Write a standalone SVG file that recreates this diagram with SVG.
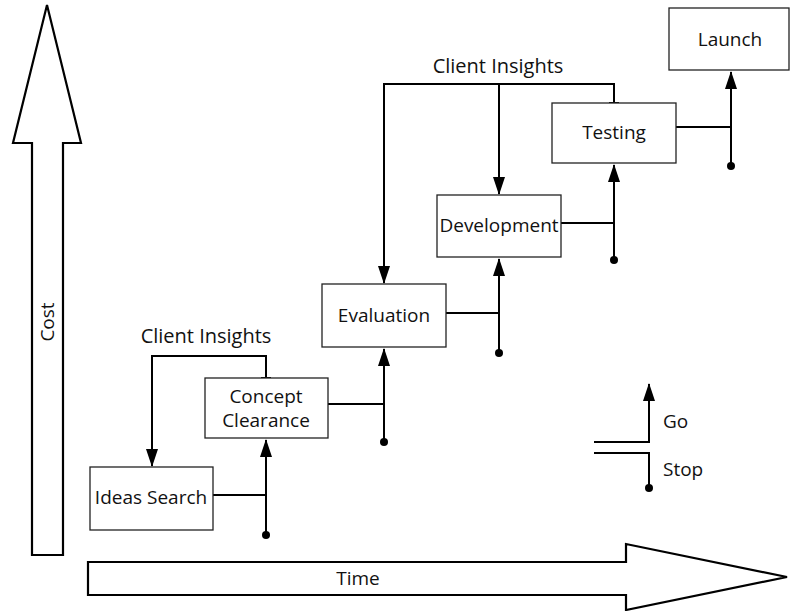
<svg xmlns="http://www.w3.org/2000/svg" width="790" height="611" viewBox="0 0 790 611">
<style>
  text { font-family: "Open Sans", "Noto Sans", "DejaVu Sans", sans-serif; font-size: 19px; fill: #111; }
  .box { fill: #fff; stroke: #222; stroke-width: 1.3; }
  .big { fill: #fff; stroke: #000; stroke-width: 2.2; stroke-linejoin: miter; }
  .c { fill: none; stroke: #000; stroke-width: 2; }
  .mid { text-anchor: middle; }
  .lbl { font-size: 20px; }
</style>
<defs>
  <marker id="arr" markerUnits="userSpaceOnUse" markerWidth="18" markerHeight="12" refX="17" refY="6" orient="auto">
    <path d="M0,0 L18,6 L0,12 z" fill="#000"/>
  </marker>
  <marker id="dot" markerUnits="userSpaceOnUse" markerWidth="10" markerHeight="10" refX="5" refY="5" orient="auto">
    <circle cx="5" cy="5" r="4" fill="#000"/>
  </marker>
</defs>

<g id="cost-axis">
  <polygon class="big" points="47,5 81,143 63,143 63,555 32,555 32,143 13,143"/>
  <text class="mid" transform="translate(54,322) rotate(-90)">Cost</text>
</g>
<g id="time-axis">
  <polygon class="big" points="88,562 626,562 626,544 787,577 626,610 626,595 88,595"/>
  <text class="mid" x="358" y="585">Time</text>
</g>

<g id="connectors">
  <path class="c" d="M213,495 H266"/>
  <path class="c" d="M266,535 V440" marker-start="url(#dot)" marker-end="url(#arr)"/>
  <path class="c" d="M328,404 H384"/>
  <path class="c" d="M384,442 V349" marker-start="url(#dot)" marker-end="url(#arr)"/>
  <path class="c" d="M446,313 H499"/>
  <path class="c" d="M499,353 V259" marker-start="url(#dot)" marker-end="url(#arr)"/>
  <path class="c" d="M561,223 H614"/>
  <path class="c" d="M614,260 V165" marker-start="url(#dot)" marker-end="url(#arr)"/>
  <path class="c" d="M676,127 H731"/>
  <path class="c" d="M731,166 V72" marker-start="url(#dot)" marker-end="url(#arr)"/>
  <path class="c" d="M266,378 V356 H152 V466" marker-end="url(#arr)"/>
  <path class="c" d="M261,378 H271"/>
  <path class="c" d="M614,103 V84 H384 V283" marker-end="url(#arr)"/>
  <path class="c" d="M499,84 V194" marker-end="url(#arr)"/>
  <path class="c" d="M609,103 H619"/>
</g>

<g id="ideas-search">
  <rect class="box" x="90" y="467" width="123" height="63"/>
  <text class="mid" x="151" y="504">Ideas Search</text>
</g>
<g id="concept-clearance">
  <rect class="box" x="205" y="378" width="123" height="60"/>
  <text class="mid" x="266" y="403">Concept</text>
  <text class="mid" x="266" y="427">Clearance</text>
</g>
<g id="evaluation">
  <rect class="box" x="322" y="284" width="124" height="63"/>
  <text class="mid" x="384" y="322">Evaluation</text>
</g>
<g id="development">
  <rect class="box" x="437" y="195" width="124" height="62"/>
  <text class="mid" x="499" y="232">Development</text>
</g>
<g id="testing">
  <rect class="box" x="552" y="103" width="124" height="60"/>
  <text class="mid" x="614" y="139">Testing</text>
</g>
<g id="launch">
  <rect class="box" x="669" y="8" width="120" height="62"/>
  <text class="mid" x="730" y="46">Launch</text>
</g>

<g id="labels">
  <text class="mid lbl" x="498" y="73">Client Insights</text>
  <text class="mid lbl" x="206" y="343">Client Insights</text>
</g>

<g id="legend">
  <path class="c" d="M594,442 H649 V384" marker-end="url(#arr)"/>
  <path class="c" d="M594,453 H649 V488" marker-end="url(#dot)"/>
  <text x="663" y="428">Go</text>
  <text x="663" y="476">Stop</text>
</g>
</svg>
